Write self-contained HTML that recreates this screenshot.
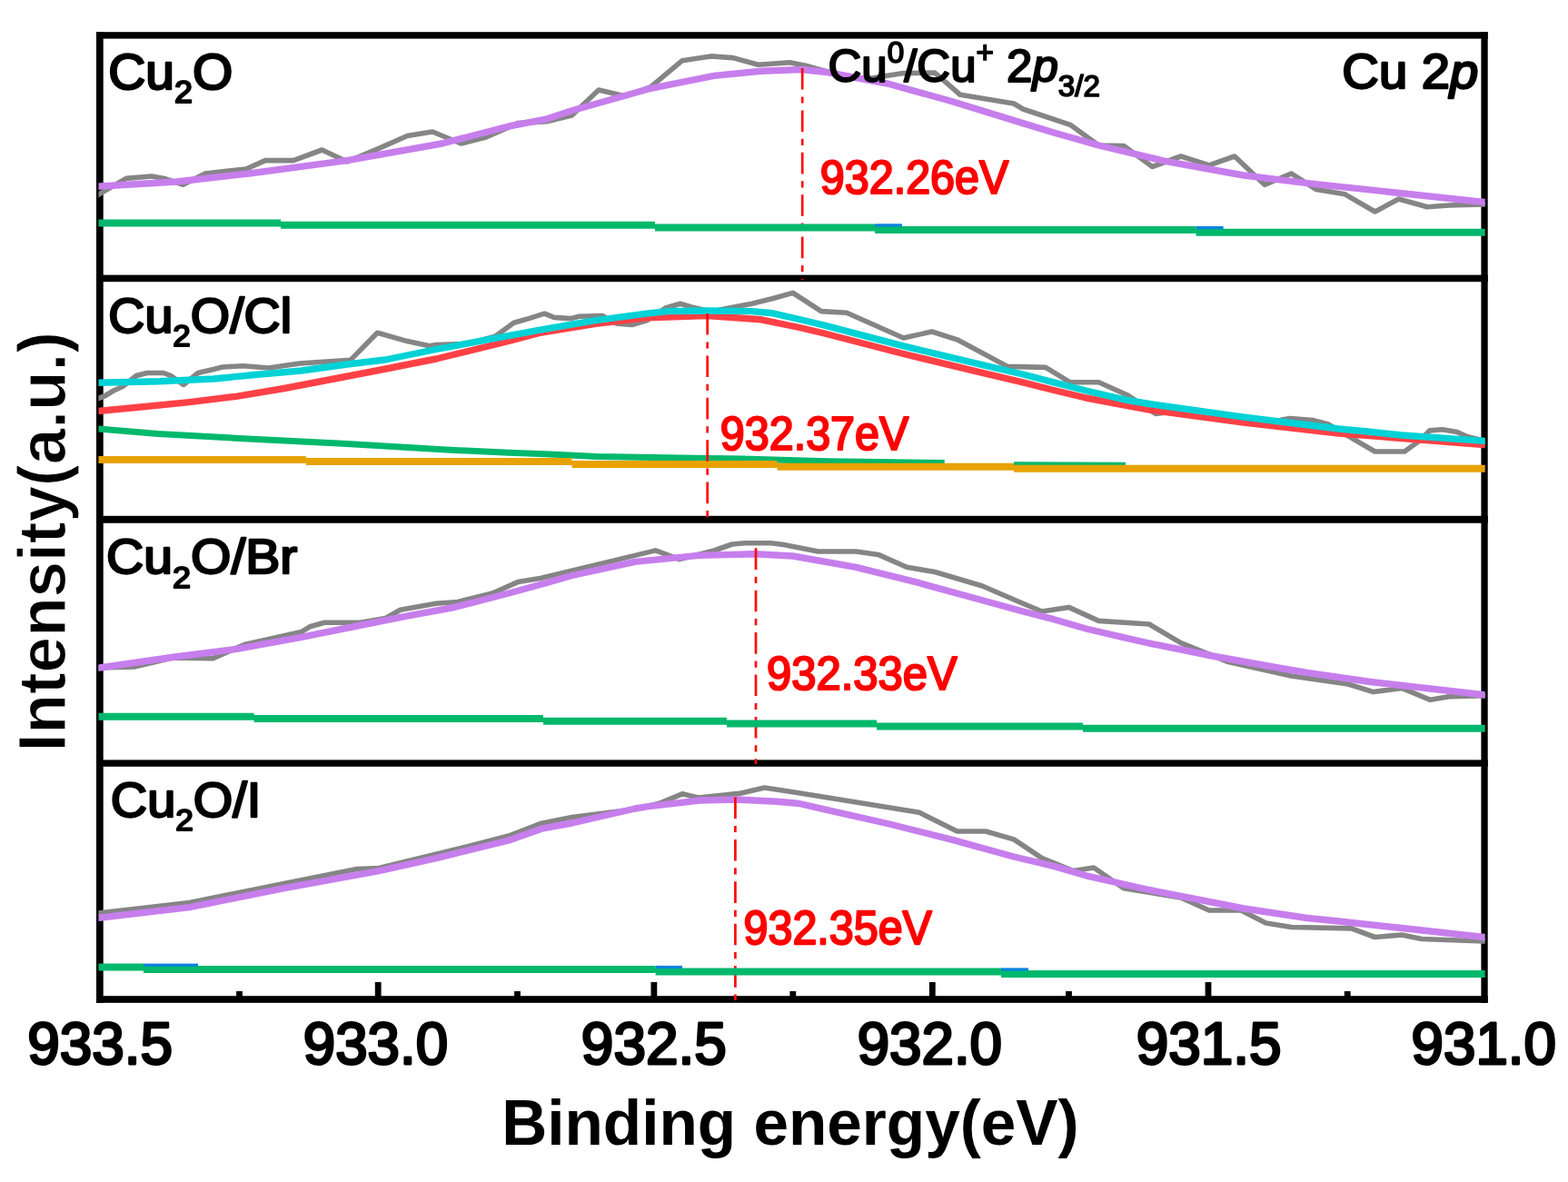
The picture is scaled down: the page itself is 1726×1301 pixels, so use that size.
<!DOCTYPE html>
<html lang="en"><head><meta charset="utf-8"><title>Cu 2p XPS spectra</title>
<style>
html,body{margin:0;padding:0;background:#fff;}
body{width:1726px;height:1301px;overflow:hidden;position:relative;}
svg{display:block;position:absolute;left:0;top:0;}
</style></head><body>
<svg width="1726" height="1301" viewBox="0 0 1726 1301">
<rect x="0" y="0" width="1726" height="1301" fill="#ffffff"/>
<defs><clipPath id="plot"><rect x="108.5" y="36" width="1526.2" height="1067"/></clipPath></defs>
<g id="frame" fill="#000">
<rect x="106" y="35.2" width="7.7" height="1068.6"/>
<rect x="1630.4" y="35.2" width="7.3" height="1068.6"/>
<rect x="106" y="35.2" width="1531.7" height="7.4"/>
<rect x="106" y="1096.2" width="1531.7" height="7.6"/>
<rect x="106" y="302.6" width="1531.7" height="7.6"/>
<rect x="106" y="567.8" width="1531.7" height="8.0"/>
<rect x="106" y="836.4" width="1531.7" height="7.4"/>
<rect x="412.8" y="1081" width="6.8" height="17"/>
<rect x="716.5" y="1081" width="6.8" height="17"/>
<rect x="1022.9" y="1081" width="6.8" height="17"/>
<rect x="1326.6" y="1081" width="6.8" height="17"/>
<rect x="260.1" y="1091" width="6.8" height="7"/>
<rect x="566.1" y="1091" width="6.8" height="7"/>
<rect x="869.4" y="1091" width="6.8" height="7"/>
<rect x="1173.1" y="1091" width="6.8" height="7"/>
<rect x="1479.8" y="1091" width="6.8" height="7"/>
</g>
<g clip-path="url(#plot)">
<g id="panel1">
<polyline points="106.5,215.3 111.0,212.7 139.0,196.4 166.8,194.0 180.7,196.4 201.6,203.3 226.0,191.0 271.0,186.0 292.0,176.6 323.0,176.6 354.5,165.0 382.0,178.0 417.0,163.4 448.4,149.5 476.0,145.0 507.5,158.0 535.0,151.0 570.0,135.6 601.7,133.8 629.5,127.0 659.0,99.0 688.6,106.0 716.4,95.6 751.0,66.7 782.5,61.9 806.8,63.6 834.6,71.3 869.4,68.8 886.7,72.3 911.0,79.0 952.8,87.0 994.5,80.6 1029.0,80.0 1057.0,104.3 1116.0,114.0 1126.0,120.0 1178.0,137.3 1209.4,160.0 1237.0,160.6 1268.5,183.5 1299.8,172.0 1331.0,181.8 1359.0,172.0 1392.0,203.3 1421.5,191.0 1449.0,208.6 1480.5,213.8 1513.6,233.0 1539.6,219.0 1571.0,227.7 1595.0,226.0 1633.5,225.0 1636.7,224.9" fill="none" stroke="#858585" stroke-width="5.6" stroke-linejoin="round" />
<polyline points="106.5,205.3 111.0,205.0 194.6,200.0 278.0,190.5 382.0,176.6 486.6,158.0 560.0,139.0 600.0,131.4 629.5,121.7 716.4,97.3 786.0,83.4 838.0,78.2 883.0,76.5 907.6,79.2 977.0,92.0 1046.6,111.2 1126.0,135.6 1160.0,146.0 1209.4,160.0 1282.4,177.3 1369.0,193.0 1439.0,201.6 1543.0,212.7 1633.5,222.5 1636.7,222.8" fill="none" stroke="#c77eed" stroke-width="7.4" stroke-linejoin="round" />
<line x1="883.2" y1="75" x2="883.2" y2="308" stroke="#ff0a0a" stroke-width="2.7" stroke-dasharray="23.6 7.8 7.2 7.8" stroke-dashoffset="0"/>
<path d="M108.0 245.4H309.0M309.0 247.8H721.0M721.0 250.4H963.0M963.0 253.0H1316.5M1316.5 255.8H1636.0" fill="none" stroke="#00b86c" stroke-width="8.0"/>
<rect x="963" y="246.3" width="30" height="3.2" fill="#0a82e0"/>
<rect x="1316.5" y="249" width="30.09999999999991" height="3.2" fill="#0a82e0"/>
</g>
<g id="panel2">
<polyline points="106.5,439.0 108.0,438.5 115.0,436.0 125.0,430.0 135.0,425.5 150.0,413.5 162.0,410.5 180.0,410.5 188.0,413.5 202.0,423.5 218.0,410.5 235.0,406.5 245.0,404.0 267.6,402.8 295.5,405.0 330.0,400.0 385.8,396.4 415.4,366.2 448.4,375.6 472.7,380.8 480.0,379.5 514.8,378.4 545.0,370.3 565.7,355.2 582.0,350.6 599.4,345.2 609.8,349.4 628.3,350.6 637.6,348.2 663.0,347.5 672.4,352.9 679.3,356.3 695.5,357.5 711.7,352.9 732.6,339.0 748.8,334.3 760.4,337.8 782.5,343.0 809.0,337.8 827.6,334.3 850.8,328.5 872.8,322.4 904.0,342.6 932.0,344.3 994.5,372.0 1025.8,365.0 1053.6,373.8 1109.0,403.4 1151.0,404.4 1178.0,420.8 1209.4,420.8 1240.7,434.7 1272.0,455.5 1300.0,452.0 1369.0,462.0 1405.0,465.0 1411.0,462.0 1420.0,460.5 1445.0,462.5 1462.0,467.0 1485.7,480.8 1513.5,497.0 1546.0,497.0 1562.0,485.4 1573.7,473.9 1587.6,472.7 1603.9,475.5 1615.4,480.8 1633.5,485.0 1636.7,485.7" fill="none" stroke="#858585" stroke-width="5.6" stroke-linejoin="round" />
<polyline points="106.5,452.6 108.0,452.5 160.0,447.5 208.6,442.6 260.0,436.3 312.8,427.5 417.0,407.5 480.0,395.0 521.4,385.0 560.0,375.5 596.0,366.0 654.0,356.5 711.0,349.8 779.0,347.5 838.0,351.8 880.0,360.5 907.6,367.0 994.5,389.5 1081.4,410.3 1126.0,420.8 1160.0,429.5 1195.5,438.0 1265.0,451.0 1369.0,465.0 1473.6,477.0 1633.5,489.5 1636.7,489.8" fill="none" stroke="#ff4146" stroke-width="7.4" stroke-linejoin="round" />
<polyline points="106.5,421.2 108.0,421.2 175.0,419.8 235.0,417.0 278.0,412.8 331.7,408.0 382.3,401.0 424.0,396.0 480.0,384.5 538.0,373.7 596.0,362.8 654.0,352.9 711.7,345.2 735.0,342.6 779.0,342.0 827.6,342.6 850.8,344.8 880.0,351.5 907.6,358.2 994.5,380.8 1081.4,401.7 1126.0,412.0 1160.0,420.8 1195.5,430.0 1240.0,440.3 1265.0,444.5 1369.3,459.2 1425.0,466.0 1473.6,472.0 1510.0,475.5 1543.0,479.0 1633.5,485.4 1636.7,485.6" fill="none" stroke="#00d2d6" stroke-width="7.4" stroke-linejoin="round" />
<polyline points="106.5,471.9 108.0,472.0 174.0,477.4 278.0,483.3 382.0,488.6 486.6,494.8 560.0,498.3 600.0,499.7 657.0,502.5 817.0,505.0 911.0,507.7 1039.7,509.6" fill="none" stroke="#00b86c" stroke-width="7.0" stroke-linejoin="round" />
<polyline points="1116.0,511.8 1239.0,512.2" fill="none" stroke="#00b86c" stroke-width="7.0" stroke-linejoin="round" />
<path d="M108.0 506.0H337.0M337.0 508.0H629.5M629.5 511.0H855.5M855.5 513.8H1116.0M1116.0 515.8H1636.0" fill="none" stroke="#e8a200" stroke-width="8.0"/>
<line x1="778.7" y1="345" x2="778.7" y2="573" stroke="#ff0a0a" stroke-width="2.7" stroke-dasharray="23.6 7.8 7.2 7.8" stroke-dashoffset="0"/>
</g>
<g id="panel3">
<polyline points="106.5,735.0 108.0,735.0 148.7,733.9 190.0,724.0 234.4,724.6 269.0,709.5 331.7,695.6 341.0,689.8 357.2,685.2 396.6,685.2 424.4,680.5 440.7,671.3 480.0,664.3 504.0,662.5 542.0,653.0 570.0,640.6 594.8,636.5 699.0,611.4 721.6,605.9 747.7,615.6 786.0,606.0 806.0,599.0 820.0,597.7 848.6,597.7 862.4,599.5 900.6,607.0 942.4,607.0 966.7,610.4 998.0,624.3 1029.0,629.5 1081.4,645.0 1126.0,664.3 1147.0,673.0 1176.4,668.4 1209.4,683.4 1265.0,687.0 1299.8,707.7 1352.0,728.6 1421.5,744.0 1484.0,753.0 1511.8,761.6 1543.0,757.4 1574.4,770.3 1595.0,766.8 1633.5,765.8 1636.7,765.7" fill="none" stroke="#858585" stroke-width="5.6" stroke-linejoin="round" />
<polyline points="106.5,735.4 109.3,735.0 192.7,723.0 262.0,714.2 331.7,701.4 378.0,692.0 447.6,678.2 500.0,668.5 521.4,663.0 560.0,653.0 600.0,642.0 629.5,633.5 699.0,618.4 768.6,611.4 831.0,609.8 872.8,612.0 942.4,624.3 1012.0,641.7 1081.4,660.8 1126.0,673.0 1160.0,681.7 1195.5,692.0 1240.0,702.3 1265.0,708.0 1334.6,722.0 1404.0,734.5 1439.0,740.4 1508.4,750.5 1633.5,764.8 1636.7,765.2" fill="none" stroke="#c77eed" stroke-width="7.4" stroke-linejoin="round" />
<line x1="832" y1="603.3" x2="832" y2="841" stroke="#ff0a0a" stroke-width="2.7" stroke-dasharray="23.6 7.8 7.2 7.8" stroke-dashoffset="0"/>
<path d="M108.0 788.8H279.6M279.6 791.0H598.0M598.0 793.8H800.0M800.0 796.6H965.0M965.0 799.4H1192.0M1192.0 801.8H1636.0" fill="none" stroke="#00b86c" stroke-width="8.0"/>
</g>
<g id="panel4">
<polyline points="106.5,1005.2 108.0,1005.0 208.6,993.5 312.8,972.5 392.8,956.5 417.0,955.5 521.4,930.0 560.0,920.0 594.8,906.5 629.5,899.5 699.0,890.8 726.8,883.9 751.0,873.8 768.6,878.0 813.7,873.4 841.5,867.0 872.8,871.7 936.5,882.0 1012.0,894.3 1053.6,915.0 1085.0,915.0 1116.0,923.9 1147.0,944.7 1181.6,958.6 1204.0,955.0 1237.0,977.7 1299.8,988.0 1331.0,1002.0 1366.0,1002.0 1393.6,1016.0 1421.5,1020.5 1487.5,1021.9 1513.5,1031.5 1543.0,1029.0 1565.0,1033.5 1633.5,1036.0 1636.7,1036.1" fill="none" stroke="#858585" stroke-width="5.6" stroke-linejoin="round" />
<polyline points="106.5,1010.5 111.0,1010.0 208.6,998.6 312.8,977.7 417.0,958.6 480.0,944.7 521.4,934.5 560.0,925.0 596.0,912.2 629.5,906.0 699.0,890.0 711.7,887.9 769.7,881.0 810.0,880.0 855.5,882.2 880.0,884.5 907.6,890.8 977.0,906.5 1046.6,923.9 1116.0,943.0 1160.0,953.4 1195.5,963.8 1265.0,979.5 1369.3,1000.0 1439.0,1010.5 1473.6,1014.0 1543.0,1021.5 1633.5,1031.5 1636.7,1031.9" fill="none" stroke="#c77eed" stroke-width="7.4" stroke-linejoin="round" />
<line x1="809.4" y1="877.5" x2="809.4" y2="1101" stroke="#ff0a0a" stroke-width="2.7" stroke-dasharray="23.6 7.8 7.2 7.8" stroke-dashoffset="0"/>
<path d="M108.0 1064.6H158.0M158.0 1067.0H721.6M721.6 1069.4H1102.0M1102.0 1071.9H1636.0" fill="none" stroke="#00b86c" stroke-width="8.0"/>
<rect x="158" y="1060.6" width="60" height="3.2" fill="#0a82e0"/>
<rect x="721.6" y="1062.9" width="29.399999999999977" height="3.2" fill="#0a82e0"/>
<rect x="1102" y="1065.4" width="30" height="3.2" fill="#0a82e0"/>
</g>
</g>
<g id="labels">
<g transform="matrix(0.6394 0 0 0.6480 30.17 1171.16)"><text x="0" y="0" font-family="'Liberation Sans', sans-serif" font-size="100" font-weight="normal" fill="#000" stroke="#000" stroke-width="4.5" stroke-linejoin="round">933.5</text></g>
<g transform="matrix(0.6368 0 0 0.6480 333.78 1171.16)"><text x="0" y="0" font-family="'Liberation Sans', sans-serif" font-size="100" font-weight="normal" fill="#000" stroke="#000" stroke-width="4.5" stroke-linejoin="round">933.0</text></g>
<g transform="matrix(0.6394 0 0 0.6480 639.87 1171.16)"><text x="0" y="0" font-family="'Liberation Sans', sans-serif" font-size="100" font-weight="normal" fill="#000" stroke="#000" stroke-width="4.5" stroke-linejoin="round">932.5</text></g>
<g transform="matrix(0.6368 0 0 0.6480 943.68 1171.16)"><text x="0" y="0" font-family="'Liberation Sans', sans-serif" font-size="100" font-weight="normal" fill="#000" stroke="#000" stroke-width="4.5" stroke-linejoin="round">932.0</text></g>
<g transform="matrix(0.6394 0 0 0.6480 1250.67 1171.16)"><text x="0" y="0" font-family="'Liberation Sans', sans-serif" font-size="100" font-weight="normal" fill="#000" stroke="#000" stroke-width="4.5" stroke-linejoin="round">931.5</text></g>
<g transform="matrix(0.6368 0 0 0.6480 1553.58 1171.16)"><text x="0" y="0" font-family="'Liberation Sans', sans-serif" font-size="100" font-weight="normal" fill="#000" stroke="#000" stroke-width="4.5" stroke-linejoin="round">931.0</text></g>
<g transform="matrix(0.6933 0 0 0.7021 552.15 1260.06)"><text x="0" y="0" font-family="'Liberation Sans', sans-serif" font-size="100" font-weight="bold" fill="#000">Binding energy(eV)</text></g>
<g transform="translate(71.57,827.29) rotate(-90) scale(0.7113,0.7413)"><text stroke="#fff" stroke-width="1.6" x="0" y="0" font-family="'Liberation Sans', sans-serif" font-size="100" font-weight="bold" fill="#000">Intensity(a.u.)</text></g>
<g transform="matrix(0.5694 0 0 0.5569 119.19 97.59)"><text x="0" y="0" font-family="'Liberation Sans', sans-serif" font-size="100" font-weight="normal" fill="#000" stroke="#000" stroke-width="4.5" stroke-linejoin="round">Cu<tspan font-size="63" dy="28" stroke-width="3.8">2</tspan><tspan dy="-28">O</tspan></text></g>
<g transform="matrix(0.5565 0 0 0.5410 119.23 365.77)"><text x="0" y="0" font-family="'Liberation Sans', sans-serif" font-size="100" font-weight="normal" fill="#000" stroke="#000" stroke-width="4.5" stroke-linejoin="round">Cu<tspan font-size="63" dy="28" stroke-width="3.8">2</tspan><tspan dy="-28">O/Cl</tspan></text></g>
<g transform="matrix(0.5708 0 0 0.5419 117.09 631.34)"><text x="0" y="0" font-family="'Liberation Sans', sans-serif" font-size="100" font-weight="normal" fill="#000" stroke="#000" stroke-width="4.5" stroke-linejoin="round">Cu<tspan font-size="63" dy="28" stroke-width="3.8">2</tspan><tspan dy="-28">O/Br</tspan></text></g>
<g transform="matrix(0.5591 0 0 0.5410 121.82 899.07)"><text x="0" y="0" font-family="'Liberation Sans', sans-serif" font-size="100" font-weight="normal" fill="#000" stroke="#000" stroke-width="4.5" stroke-linejoin="round">Cu<tspan font-size="63" dy="28" stroke-width="3.8">2</tspan><tspan dy="-28">O/I</tspan></text></g>
<g transform="matrix(0.5620 0 0 0.5421 1477.31 96.53)"><text x="0" y="0" font-family="'Liberation Sans', sans-serif" font-size="100" font-weight="normal" fill="#000" stroke="#000" stroke-width="4.5" stroke-linejoin="round">Cu 2<tspan font-style="italic">p</tspan></text></g>
<g transform="matrix(0.5103 0 0 0.4992 911.47 90.03)"><text x="0" y="0" font-family="'Liberation Sans', sans-serif" font-size="100" font-weight="normal" fill="#000" stroke="#000" stroke-width="4.2" stroke-linejoin="round">Cu<tspan font-size="65" dy="-42" stroke-width="3.4">0</tspan><tspan dy="42">/Cu</tspan><tspan font-size="65" dy="-42" stroke-width="3.4">+</tspan><tspan dy="42"> 2</tspan><tspan font-style="italic">p</tspan><tspan font-size="65" dy="31" stroke-width="3.4">3/2</tspan></text></g>
<g transform="matrix(0.4845 0 0 0.5213 902.85 212.74)"><text x="0" y="0" font-family="'Liberation Sans', sans-serif" font-size="100" font-weight="normal" fill="#ff0000" stroke="#ff0000" stroke-width="4.3" stroke-linejoin="round">932.26eV</text></g>
<g transform="matrix(0.4845 0 0 0.5213 792.85 495.34)"><text x="0" y="0" font-family="'Liberation Sans', sans-serif" font-size="100" font-weight="normal" fill="#ff0000" stroke="#ff0000" stroke-width="4.3" stroke-linejoin="round">932.37eV</text></g>
<g transform="matrix(0.4897 0 0 0.5227 844.03 758.63)"><text x="0" y="0" font-family="'Liberation Sans', sans-serif" font-size="100" font-weight="normal" fill="#ff0000" stroke="#ff0000" stroke-width="4.3" stroke-linejoin="round">932.33eV</text></g>
<g transform="matrix(0.4843 0 0 0.5240 818.55 1039.23)"><text x="0" y="0" font-family="'Liberation Sans', sans-serif" font-size="100" font-weight="normal" fill="#ff0000" stroke="#ff0000" stroke-width="4.3" stroke-linejoin="round">932.35eV</text></g>
</g>
</svg></body></html>
